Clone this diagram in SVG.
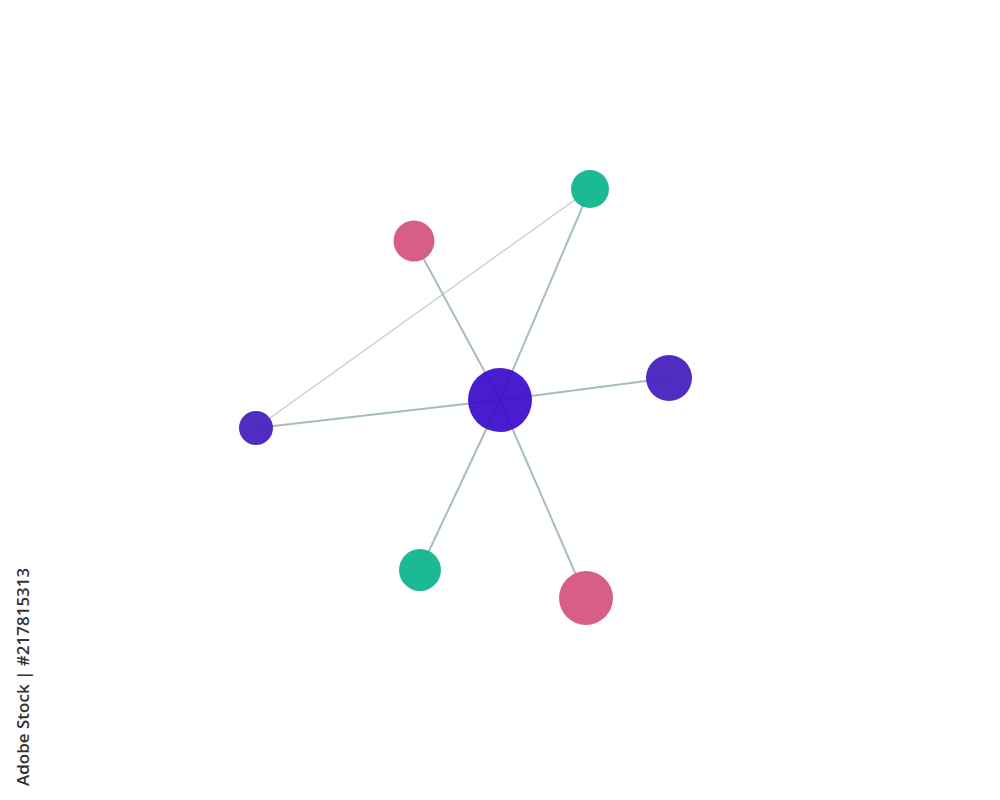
<svg xmlns="http://www.w3.org/2000/svg" width="1000" height="800" viewBox="0 0 1000 800">
<style>
.e{stroke:#a7bdb8;stroke-width:2;fill:none}
.t{stroke:#c8c8c8;stroke-width:1.2;fill:none}
.n{opacity:0.97}
.c{opacity:0.92}
.wm{font-family:"Open Sans","Liberation Sans",sans-serif;font-size:17px;font-weight:600;fill:#333}
</style>
<rect width="1000" height="800" fill="#fff"/>
<g id="connectors">
<line class="t" x1="256" y1="428" x2="590" y2="189"/>
<line class="e" x1="500" y1="400" x2="414" y2="241"/>
<line class="e" x1="500" y1="400" x2="590" y2="189"/>
<line class="e" x1="500" y1="400" x2="669" y2="378"/>
<line class="e" x1="500" y1="400" x2="256" y2="428"/>
<line class="e" x1="500" y1="400" x2="420" y2="570"/>
<line class="e" x1="500" y1="400" x2="586" y2="598"/>
</g>
<g id="center"><circle class="c" cx="500" cy="400" r="32" fill="#3a0acb"/></g>
<g id="pink-top"><circle class="n" cx="414" cy="241" r="20.5" fill="#d65985"/></g>
<g id="green-top"><circle class="n" cx="590" cy="189" r="19" fill="#14b791"/></g>
<g id="purple-right"><circle class="n" cx="669" cy="378" r="23" fill="#4a25bf"/></g>
<g id="purple-left"><circle class="n" cx="256" cy="428" r="17" fill="#4a25bf"/></g>
<g id="green-bottom"><circle class="n" cx="420" cy="570" r="21" fill="#14b791"/></g>
<g id="pink-bottom"><circle class="n" cx="586" cy="598" r="27" fill="#d65985"/></g>
<text class="wm" transform="translate(29,786) rotate(-90)">Adobe Stock | #217815313</text>
</svg>
